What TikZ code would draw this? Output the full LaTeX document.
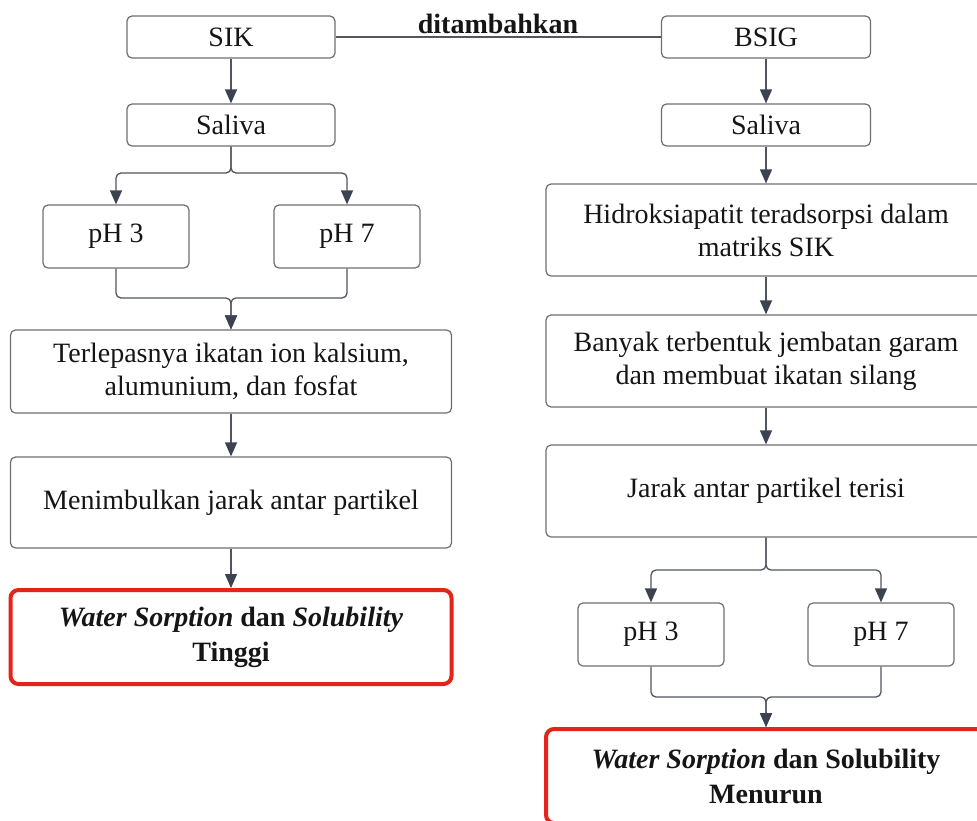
\documentclass[tikz,border=0pt]{standalone}
\usepackage{fontspec}
\setmainfont{Liberation Serif}
\usetikzlibrary{arrows.meta}
\definecolor{boxgray}{HTML}{6E6E6E}
\definecolor{linegray}{HTML}{50555E}
\definecolor{tipgray}{HTML}{3C4350}
\definecolor{redbox}{HTML}{E5231B}
\definecolor{txt}{HTML}{151515}
\tikzset{
  box/.style={draw=boxgray, line width=1.2pt, rounded corners=5pt, align=center,
    inner sep=0pt, text=txt, font=\fontsize{28}{33}\selectfont},
  redb/.style={draw=redbox, line width=4pt, rounded corners=8pt, align=center,
    inner sep=0pt, text=txt, font=\bfseries\fontsize{28}{35}\selectfont},
  conn/.style={draw=linegray, line width=1.3pt, rounded corners=5pt},
  arr/.style={conn, -{Triangle[width=12pt,length=14pt,color=tipgray]}}
}
\begin{document}
\begin{tikzpicture}[x=1pt,y=-1pt]
\useasboundingbox (0,0) rectangle (977,820);
\clip (0,0) rectangle (977,820);
% left column
\node[box, minimum width=208pt, minimum height=42pt] (sik) at (231,37) {SIK};
\node[box, minimum width=208pt, minimum height=42pt] (salL) at (231,125) {Saliva};
\node[box, minimum width=146pt, minimum height=63pt] (p3L) at (116,236.5) {pH 3};
\node[box, minimum width=146pt, minimum height=63pt] (p7L) at (347,236.5) {pH 7};
\node[box, minimum width=441pt, minimum height=83pt] (terl) at (231,371.5) {Terlepasnya ikatan ion kalsium,\\alumunium, dan fosfat};
\node[box, minimum width=441pt, minimum height=91pt] (meni) at (231,502.5) {Menimbulkan jarak antar partikel};
\node[redb, minimum width=441pt, minimum height=94pt] (resL) at (231,637) {\textit{Water Sorption} dan \textit{Solubility}\\Tinggi};
% right column
\node[box, minimum width=209pt, minimum height=42pt] (bsig) at (766,37) {BSIG};
\node[box, minimum width=209pt, minimum height=42pt] (salR) at (766,125) {Saliva};
\node[box, minimum width=440pt, minimum height=92pt] (hidr) at (766,230) {Hidroksiapatit teradsorpsi dalam\\matriks SIK};
\node[box, minimum width=440pt, minimum height=92pt] (bany) at (766,361) {Banyak terbentuk jembatan garam\\dan membuat ikatan silang};
\node[box, minimum width=440pt, minimum height=92pt] (jara) at (766,491) {Jarak antar partikel terisi};
\node[box, minimum width=146pt, minimum height=63pt] (p3R) at (651,634.5) {pH 3};
\node[box, minimum width=146pt, minimum height=63pt] (p7R) at (881,634.5) {pH 7};
\node[redb, minimum width=440pt, minimum height=94pt] (resR) at (766,776) {\textit{Water Sorption} dan Solubility\\Menurun};
% label
\node[text=txt, font=\bfseries\fontsize{28}{33}\selectfont, inner sep=0pt] (dit) at (498,24) {ditambahkan};
% junction coordinates
\coordinate (sL) at (231,173);
\coordinate (mL) at (231,298);
\coordinate (sR) at (766,570);
\coordinate (mR) at (766,697);
% connectors
\draw[conn] (sik.east) -- (bsig.west);
\draw[arr] (sik.south) -- (salL.north);
\draw[arr] (salL.south) -- (sL) -| (p3L.north);
\draw[arr] (salL.south) -- (sL) -| (p7L.north);
\draw[arr] (p3L.south) |- (mL) -- (terl.north);
\draw[arr] (p7L.south) |- (mL) -- (terl.north);
\draw[arr] (terl.south) -- (meni.north);
\draw[arr] (meni.south) -- (resL.north);
\draw[arr] (bsig.south) -- (salR.north);
\draw[arr] (salR.south) -- (hidr.north);
\draw[arr] (hidr.south) -- (bany.north);
\draw[arr] (bany.south) -- (jara.north);
\draw[arr] (jara.south) -- (sR) -| (p3R.north);
\draw[arr] (jara.south) -- (sR) -| (p7R.north);
\draw[arr] (p3R.south) |- (mR) -- (resR.north);
\draw[arr] (p7R.south) |- (mR) -- (resR.north);
\end{tikzpicture}
\end{document}
